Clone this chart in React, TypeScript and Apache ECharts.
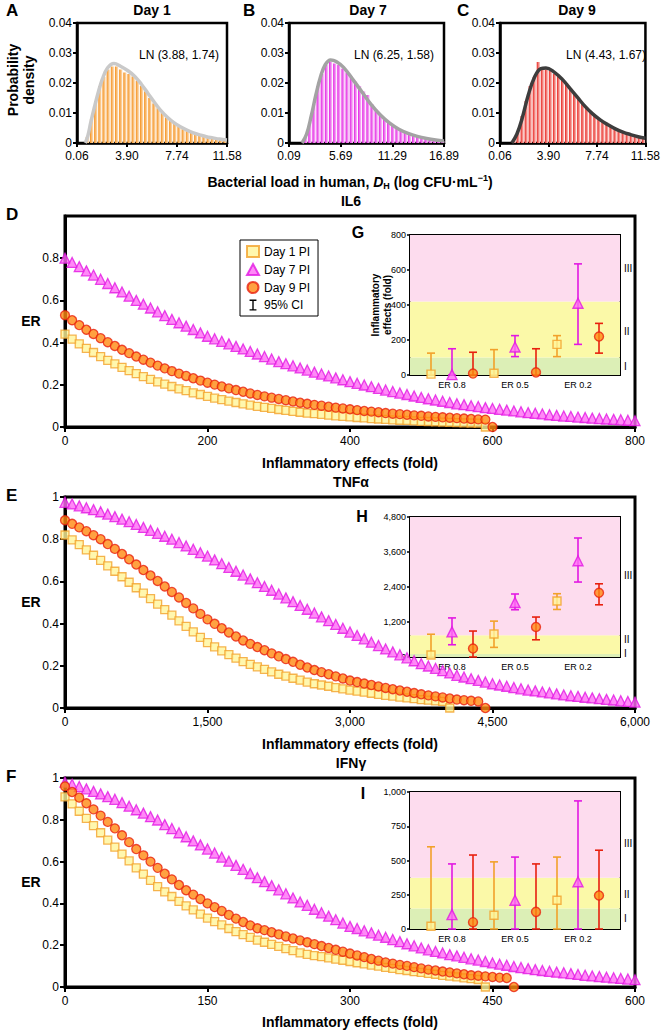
import React, { useEffect, useRef } from "react";
import * as echarts from "echarts";

const FONT = "'Liberation Sans', Arial, Helvetica, sans-serif";

// ---------- Panels A-C: histograms of bacterial load ----------
const ticksA = [0.06, 3.9, 7.74, 11.58];
const ticksB = [0.09, 5.69, 11.29, 16.89];
const ticksC = [0.06, 3.9, 7.74, 11.58];

const binStartA = 0.86;
const binStepA = 0.32;
const histA = [0.002, 0.008, 0.014, 0.019, 0.022, 0.0245, 0.0255, 0.0255, 0.0245, 0.0235, 0.023, 0.0222, 0.0208, 0.019, 0.0172, 0.015, 0.0132, 0.0116, 0.01, 0.0085, 0.0074, 0.0064, 0.0054, 0.0046, 0.004, 0.0034, 0.0029, 0.0025, 0.0022, 0.0018, 0.0015, 0.0013, 0.0011, 0.0009];
const curveA = [[0.7, 0], [0.9, 0.0025], [1.1, 0.0065], [1.4, 0.012], [1.7, 0.017], [2.0, 0.0212], [2.4, 0.025], [2.9, 0.0265], [3.4, 0.0256], [4.0, 0.024], [4.5, 0.0222], [5.0, 0.0196], [5.5, 0.0166], [6.0, 0.0136], [6.5, 0.0108], [7.0, 0.0086], [7.5, 0.0068], [8.0, 0.0054], [8.5, 0.0043], [9.0, 0.0034], [9.5, 0.0027], [10.0, 0.0021], [10.5, 0.0017], [11.0, 0.0013], [11.58, 0.001]];

const binStartB = 1.9;
const binStepB = 0.45;
const histB = [0.002, 0.007, 0.013, 0.019, 0.023, 0.026, 0.027, 0.0265, 0.026, 0.0248, 0.0235, 0.0222, 0.0205, 0.019, 0.0172, 0.016, 0.013, 0.0112, 0.0095, 0.0082, 0.007, 0.006, 0.0051, 0.0043, 0.0036, 0.003, 0.0025, 0.0021, 0.0017, 0.0014, 0.0012, 0.001, 0.0008, 0.0007];
const curveB = [[1.5, 0], [2.0, 0.003], [2.5, 0.009], [3.0, 0.016], [3.5, 0.022], [4.0, 0.026], [4.6, 0.0277], [5.2, 0.0272], [6.0, 0.0252], [7.0, 0.0212], [8.0, 0.017], [9.0, 0.0128], [10.0, 0.0093], [11.0, 0.0066], [12.0, 0.0046], [13.0, 0.0032], [14.0, 0.0022], [15.0, 0.0015], [16.0, 0.001], [16.89, 0.0007]];

const binStartC = 1.18;
const binStepC = 0.32;
const histC = [0.001, 0.004, 0.009, 0.014, 0.019, 0.022, 0.027, 0.025, 0.0245, 0.024, 0.023, 0.0222, 0.0212, 0.02, 0.0182, 0.0162, 0.0148, 0.013, 0.0118, 0.01, 0.0092, 0.008, 0.007, 0.0064, 0.0054, 0.0046, 0.004, 0.0035, 0.0031, 0.0028, 0.0023, 0.002, 0.0016];
const curveC = [[1.0, 0], [1.4, 0.003], [1.8, 0.008], [2.3, 0.016], [2.8, 0.022], [3.3, 0.0248], [3.7, 0.025], [4.3, 0.0238], [5.0, 0.0212], [5.6, 0.0182], [6.2, 0.0152], [6.8, 0.0122], [7.4, 0.0097], [8.0, 0.0077], [8.6, 0.0061], [9.2, 0.0047], [9.8, 0.0036], [10.4, 0.0028], [11.0, 0.0021], [11.58, 0.0016]];

// ---------- Panels D-F: ER vs inflammatory effects ----------
const ilStep = 10;
const ilDay1 = [0.44, 0.416, 0.394, 0.373, 0.353, 0.334, 0.316, 0.299, 0.283, 0.267, 0.253, 0.239, 0.226, 0.214, 0.203, 0.192, 0.181, 0.172, 0.162, 0.154, 0.145, 0.137, 0.13, 0.123, 0.116, 0.11, 0.104, 0.098, 0.093, 0.088, 0.083, 0.079, 0.074, 0.07, 0.066, 0.063, 0.06, 0.056, 0.053, 0.05, 0.048, 0.045, 0.043, 0.04, 0.038, 0.036, 0.034, 0.032, 0.031, 0.029, 0.027, 0.026, 0.025, 0.023, 0.022, 0.021, 0.02, 0.019, 0.018, 0];
const ilDay7 = [0.8, 0.78, 0.76, 0.74, 0.72, 0.7, 0.68, 0.66, 0.64, 0.62, 0.6, 0.582, 0.564, 0.546, 0.528, 0.51, 0.494, 0.478, 0.462, 0.446, 0.43, 0.418, 0.406, 0.394, 0.382, 0.37, 0.358, 0.346, 0.334, 0.322, 0.31, 0.3, 0.29, 0.28, 0.27, 0.26, 0.251, 0.242, 0.233, 0.224, 0.215, 0.207, 0.199, 0.191, 0.183, 0.175, 0.168, 0.161, 0.154, 0.147, 0.14, 0.134, 0.128, 0.122, 0.116, 0.11, 0.106, 0.101, 0.097, 0.092, 0.088, 0.084, 0.08, 0.076, 0.072, 0.068, 0.065, 0.062, 0.058, 0.055, 0.052, 0.05, 0.047, 0.045, 0.042, 0.04, 0.038, 0.036, 0.034, 0.032, 0.03];
const ilDay9 = [0.53, 0.506, 0.483, 0.461, 0.441, 0.421, 0.402, 0.384, 0.366, 0.35, 0.334, 0.319, 0.305, 0.291, 0.278, 0.265, 0.253, 0.242, 0.231, 0.22, 0.21, 0.201, 0.192, 0.183, 0.175, 0.167, 0.159, 0.152, 0.145, 0.139, 0.133, 0.127, 0.121, 0.115, 0.11, 0.105, 0.101, 0.096, 0.092, 0.088, 0.084, 0.08, 0.076, 0.073, 0.07, 0.066, 0.063, 0.061, 0.058, 0.055, 0.053, 0.05, 0.048, 0.046, 0.044, 0.042, 0.04, 0.038, 0.036, 0.035, 0];

const tnfStep = 75;
const tnfDay1 = [0.82, 0.797, 0.774, 0.749, 0.724, 0.7, 0.674, 0.648, 0.622, 0.596, 0.57, 0.544, 0.518, 0.492, 0.466, 0.44, 0.413, 0.387, 0.361, 0.335, 0.31, 0.29, 0.271, 0.253, 0.236, 0.22, 0.207, 0.195, 0.183, 0.171, 0.16, 0.151, 0.141, 0.132, 0.123, 0.115, 0.109, 0.103, 0.097, 0.091, 0.085, 0.08, 0.075, 0.07, 0.065, 0.06, 0.056, 0.052, 0.048, 0.044, 0.04, 0.037, 0.034, 0.031, 0];
const tnfDay7 = [0.975, 0.967, 0.958, 0.949, 0.94, 0.93, 0.919, 0.907, 0.895, 0.883, 0.87, 0.856, 0.842, 0.828, 0.814, 0.8, 0.784, 0.768, 0.752, 0.736, 0.72, 0.702, 0.684, 0.666, 0.648, 0.63, 0.612, 0.594, 0.576, 0.558, 0.54, 0.522, 0.504, 0.486, 0.468, 0.45, 0.432, 0.414, 0.396, 0.378, 0.36, 0.344, 0.328, 0.312, 0.296, 0.28, 0.266, 0.252, 0.238, 0.224, 0.21, 0.199, 0.188, 0.177, 0.166, 0.155, 0.147, 0.139, 0.131, 0.123, 0.115, 0.109, 0.103, 0.097, 0.091, 0.085, 0.081, 0.076, 0.072, 0.067, 0.062, 0.058, 0.055, 0.051, 0.048, 0.044, 0.041, 0.038, 0.034, 0.031, 0.028];
const tnfDay9 = [0.89, 0.873, 0.856, 0.838, 0.819, 0.8, 0.777, 0.754, 0.73, 0.705, 0.68, 0.654, 0.628, 0.602, 0.576, 0.55, 0.524, 0.498, 0.472, 0.446, 0.42, 0.399, 0.378, 0.358, 0.339, 0.32, 0.304, 0.289, 0.274, 0.259, 0.245, 0.232, 0.219, 0.205, 0.192, 0.18, 0.17, 0.16, 0.15, 0.14, 0.13, 0.123, 0.116, 0.109, 0.102, 0.095, 0.089, 0.083, 0.077, 0.071, 0.065, 0.06, 0.055, 0.05, 0.045, 0.04, 0.037, 0.034, 0.031, 0];

const ifnStep = 7.5;
const ifnDay1 = [0.91, 0.876, 0.841, 0.807, 0.772, 0.738, 0.703, 0.669, 0.636, 0.603, 0.57, 0.54, 0.51, 0.48, 0.455, 0.433, 0.41, 0.388, 0.369, 0.349, 0.33, 0.313, 0.297, 0.28, 0.265, 0.251, 0.237, 0.224, 0.214, 0.204, 0.194, 0.184, 0.174, 0.163, 0.156, 0.15, 0.145, 0.139, 0.133, 0.128, 0.122, 0.116, 0.111, 0.105, 0.1, 0.094, 0.089, 0.083, 0.079, 0.074, 0.07, 0.065, 0.061, 0.056, 0.052, 0.048, 0.044, 0.04, 0.036, 0];
const ifnDay7 = [0.98, 0.97, 0.959, 0.948, 0.936, 0.924, 0.911, 0.898, 0.882, 0.865, 0.848, 0.832, 0.815, 0.799, 0.777, 0.758, 0.738, 0.719, 0.699, 0.68, 0.66, 0.641, 0.621, 0.602, 0.582, 0.563, 0.543, 0.523, 0.504, 0.485, 0.465, 0.446, 0.426, 0.407, 0.391, 0.372, 0.355, 0.339, 0.322, 0.306, 0.29, 0.28, 0.269, 0.259, 0.248, 0.238, 0.227, 0.217, 0.207, 0.197, 0.187, 0.178, 0.17, 0.163, 0.155, 0.149, 0.142, 0.135, 0.129, 0.122, 0.115, 0.109, 0.104, 0.098, 0.093, 0.088, 0.083, 0.079, 0.075, 0.071, 0.068, 0.064, 0.06, 0.056, 0.053, 0.05, 0.047, 0.044, 0.041, 0.038, 0.035];
const ifnDay9 = [0.96, 0.933, 0.906, 0.879, 0.85, 0.82, 0.79, 0.759, 0.726, 0.693, 0.66, 0.63, 0.6, 0.57, 0.542, 0.515, 0.488, 0.463, 0.442, 0.421, 0.4, 0.382, 0.364, 0.345, 0.327, 0.311, 0.295, 0.281, 0.272, 0.262, 0.252, 0.242, 0.232, 0.223, 0.214, 0.205, 0.196, 0.187, 0.178, 0.169, 0.16, 0.151, 0.143, 0.134, 0.126, 0.118, 0.112, 0.106, 0.101, 0.095, 0.089, 0.083, 0.079, 0.074, 0.07, 0.065, 0.061, 0.056, 0.054, 0.051, 0.048, 0.045, 0.043, 0];

// ---------- Insets G-I: [mean, CI low, CI high] at ER 0.8, 0.5, 0.2 ----------
const erGroups = ["ER 0.8", "ER 0.5", "ER 0.2"];
const gDay1 = [[5, 0, 125], [10, 0, 145], [175, 105, 225]];
const gDay7 = [[2, 0, 150], [160, 105, 225], [410, 175, 635]];
const gDay9 = [[8, 0, 130], [15, 0, 150], [220, 125, 295]];
const gBands = [100, 420, 800];

const hDay1 = [[70, 0, 780], [790, 330, 1230], [1920, 1630, 2170]];
const hDay7 = [[860, 420, 1340], [1870, 1620, 2160], [3300, 2570, 4080]];
const hDay9 = [[290, 0, 890], [1030, 590, 1370], [2200, 1790, 2510]];
const hBands = [100, 750, 4800];

const iDay1 = [[20, 0, 600], [100, 0, 490], [210, 0, 525]];
const iDay7 = [[105, 0, 475], [210, 0, 525], [345, 0, 935]];
const iDay9 = [[50, 0, 540], [125, 0, 475], [245, 0, 575]];
const iBands = [150, 375, 1000];

// ---------- styles ----------
const day1Fill = "#fff59a";
const day1Edge = "#f2a12a";
const day7Fill = "#ff6cf5";
const day7Edge = "#e218e2";
const day9Fill = "#ff8a12";
const day9Edge = "#e8200e";
const bandColors = ["#dcefb6", "#fbf9a8", "#fddcee"];

function toU(x: number, ticks: number[]) {
  return ((x - ticks[0]) / (ticks[ticks.length - 1] - ticks[0])) * (ticks.length - 1);
}

function buildOption() {
  const grid: any[] = [
    { left: 77, top: 23, width: 150, height: 120 },
    { left: 289, top: 23, width: 155, height: 120 },
    { left: 500, top: 23, width: 152, height: 120 },
    { left: 65, top: 216, width: 570, height: 211 },
    { left: 65, top: 497, width: 570, height: 211 },
    { left: 65, top: 778, width: 570, height: 209 },
    { left: 410, top: 235, width: 210, height: 140 },
    { left: 410, top: 517, width: 210, height: 140 },
    { left: 410, top: 792, width: 210, height: 137 },
  ].map((g, i) => ({
    ...g,
    show: true,
    borderColor: "#000",
    borderWidth: i < 3 ? 2.5 : i < 6 ? 3 : 2,
    backgroundColor: "transparent",
    containLabel: false,
  }));

  const xAxis: any[] = [];
  const yAxis: any[] = [];

  const topTicks = [ticksA, ticksB, ticksC];
  topTicks.forEach((ticks, i) => {
    xAxis.push({
      gridIndex: i, type: "value", min: 0, max: ticks.length - 1, interval: 1,
      axisLine: { show: true, onZero: false, lineStyle: { color: "#000", width: 2.5 } },
      axisTick: { show: true, length: 4, lineStyle: { color: "#000", width: 2 } },
      axisLabel: { color: "#000", fontSize: 12, margin: 7, formatter: (v: number) => ticks[Math.round(v)].toFixed(2) },
      splitLine: { show: false },
    });
    yAxis.push({
      gridIndex: i, type: "value", min: 0, max: 0.04, interval: 0.01,
      axisLine: { show: true, lineStyle: { color: "#000", width: 2.5 } },
      axisTick: { show: true, length: 4, lineStyle: { color: "#000", width: 2 } },
      axisLabel: { color: "#000", fontSize: 12, margin: 5, formatter: (v: number) => (v === 0 ? "0" : v.toFixed(2)) },
      splitLine: { show: false },
    });
  });

  const mainX = [
    { max: 800, interval: 200 },
    { max: 6000, interval: 1500 },
    { max: 600, interval: 150 },
  ];
  mainX.forEach((m, k) => {
    const gi = 3 + k;
    xAxis.push({
      gridIndex: gi, type: "value", min: 0, max: m.max, interval: m.interval,
      axisLine: { show: true, onZero: false, lineStyle: { color: "#000", width: 3 } },
      axisTick: { show: true, length: 5, lineStyle: { color: "#000", width: 2 } },
      axisLabel: { color: "#000", fontSize: 12, margin: 8, formatter: (v: number) => v.toLocaleString("en-US") },
      splitLine: { show: false },
    });
    yAxis.push({
      gridIndex: gi, type: "value", min: 0, max: 1, interval: 0.2,
      axisLine: { show: true, lineStyle: { color: "#000", width: 3 } },
      axisTick: { show: true, length: 5, lineStyle: { color: "#000", width: 2 } },
      axisLabel: {
        color: "#000", fontSize: 12, margin: 6, showMaxLabel: k !== 0,
        formatter: (v: number) => (v === 0 ? "0" : v === 1 ? "1" : v.toFixed(1)),
      },
      splitLine: { show: false },
    });
  });

  const insetY = [
    { max: 800, interval: 200 },
    { max: 4800, interval: 1200 },
    { max: 1000, interval: 250 },
  ];
  insetY.forEach((m, k) => {
    const gi = 6 + k;
    xAxis.push({
      gridIndex: gi, type: "value", min: 0, max: 10, interval: 1,
      axisLine: { show: true, onZero: false, lineStyle: { color: "#000", width: 2 } },
      axisTick: { show: false },
      axisLabel: {
        color: "#000", fontSize: 9, margin: 5,
        formatter: (v: number) => {
          const g = (v - 2) / 3;
          return Number.isInteger(g) && g >= 0 && g < erGroups.length ? erGroups[g] : "";
        },
      },
      splitLine: { show: false },
    });
    yAxis.push({
      gridIndex: gi, type: "value", min: 0, max: m.max, interval: m.interval,
      axisLine: { show: true, lineStyle: { color: "#000", width: 2 } },
      axisTick: { show: true, length: 3, lineStyle: { color: "#000", width: 1.5 } },
      axisLabel: { color: "#000", fontSize: 9, margin: 4, formatter: (v: number) => v.toLocaleString("en-US") },
      splitLine: { show: false },
    });
  });

  const series: any[] = [];

  // histograms
  const hists = [
    { start: binStartA, step: binStepA, vals: histA, curve: curveA, ticks: ticksA, dark: "#f5901a", light: "#fde3c4", line: "#c9c9c9" },
    { start: binStartB, step: binStepB, vals: histB, curve: curveB, ticks: ticksB, dark: "#e41ee4", light: "#f8cdf8", line: "#a3a3a3" },
    { start: binStartC, step: binStepC, vals: histC, curve: curveC, ticks: ticksC, dark: "#e8231d", light: "#fbd3cf", line: "#3d3d3d" },
  ];
  hists.forEach((h, i) => {
    series.push({
      type: "bar", xAxisIndex: i, yAxisIndex: i, barWidth: 3.3, silent: true,
      itemStyle: {
        color: new echarts.graphic.LinearGradient(0, 0, 1, 0, [
          { offset: 0, color: h.dark },
          { offset: 1, color: h.light },
        ]),
      },
      data: h.vals.map((v, j) => [toU(h.start + j * h.step, h.ticks), v]),
      z: 2,
    });
    series.push({
      type: "line", xAxisIndex: i, yAxisIndex: i, smooth: 0.4, symbol: "none", silent: true,
      lineStyle: { color: h.line, width: 3.5 },
      data: h.curve.map((p) => [toU(p[0], h.ticks), p[1]]),
      z: 3,
    });
  });

  // main panels
  const mains = [
    { step: ilStep, d1: ilDay1, d7: ilDay7, d9: ilDay9 },
    { step: tnfStep, d1: tnfDay1, d7: tnfDay7, d9: tnfDay9 },
    { step: ifnStep, d1: ifnDay1, d7: ifnDay7, d9: ifnDay9 },
  ];
  mains.forEach((m, k) => {
    const gi = 3 + k;
    series.push({
      name: "Day 1 PI", type: "scatter", xAxisIndex: gi, yAxisIndex: gi, symbol: "rect", symbolSize: 8,
      itemStyle: { color: day1Fill, borderColor: day1Edge, borderWidth: 1.3 },
      data: m.d1.map((v, j) => [j * m.step, v]), z: 2,
    });
    series.push({
      name: "Day 7 PI", type: "scatter", xAxisIndex: gi, yAxisIndex: gi, symbol: "triangle", symbolSize: 10,
      itemStyle: { color: day7Fill, borderColor: day7Edge, borderWidth: 1.3 },
      data: m.d7.map((v, j) => [j * m.step, v]), z: 2,
    });
    series.push({
      name: "Day 9 PI", type: "scatter", xAxisIndex: gi, yAxisIndex: gi, symbol: "circle", symbolSize: 9,
      itemStyle: { color: day9Fill, borderColor: day9Edge, borderWidth: 1.3 },
      data: m.d9.map((v, j) => [j * m.step, v]), z: 2,
    });
  });
  series.push({ name: "95% CI", type: "line", xAxisIndex: 3, yAxisIndex: 3, data: [], itemStyle: { color: "#000" }, lineStyle: { color: "#000" } });

  // insets
  const insets = [
    { d1: gDay1, d7: gDay7, d9: gDay9, bands: gBands },
    { d1: hDay1, d7: hDay7, d9: hDay9, bands: hBands },
    { d1: iDay1, d7: iDay7, d9: iDay9, bands: iBands },
  ];
  insets.forEach((ins, k) => {
    const gi = 6 + k;
    series.push({
      type: "scatter", xAxisIndex: gi, yAxisIndex: gi, data: [[0, 0]], symbolSize: 0, silent: true, z: 4,
      markArea: {
        silent: true,
        data: [
          [{ yAxis: 0, itemStyle: { color: bandColors[0] } }, { yAxis: ins.bands[0] }],
          [{ yAxis: ins.bands[0], itemStyle: { color: bandColors[1] } }, { yAxis: ins.bands[1] }],
          [{ yAxis: ins.bands[1], itemStyle: { color: bandColors[2] } }, { yAxis: ins.bands[2] }],
        ],
      },
    });
    const groups = [
      { data: ins.d1, off: 1, edge: day1Edge, fill: day1Fill, sym: "rect", size: 8 },
      { data: ins.d7, off: 2, edge: day7Edge, fill: day7Fill, sym: "triangle", size: 10 },
      { data: ins.d9, off: 3, edge: day9Edge, fill: day9Fill, sym: "circle", size: 9 },
    ];
    groups.forEach((g) => {
      series.push({
        type: "custom", xAxisIndex: gi, yAxisIndex: gi, silent: true, z: 6,
        data: g.data.map((d, j) => [j * 3 + g.off, d[1], d[2]]),
        renderItem: (params: any, api: any) => {
          const x = api.value(0);
          const lo = api.coord([x, api.value(1)]);
          const hi = api.coord([x, api.value(2)]);
          const style = { stroke: g.edge, lineWidth: 1.6 };
          const c = 4;
          return {
            type: "group",
            children: [
              { type: "line", shape: { x1: lo[0], y1: lo[1], x2: hi[0], y2: hi[1] }, style },
              { type: "line", shape: { x1: hi[0] - c, y1: hi[1], x2: hi[0] + c, y2: hi[1] }, style },
              { type: "line", shape: { x1: lo[0] - c, y1: lo[1], x2: lo[0] + c, y2: lo[1] }, style },
            ],
          };
        },
      });
      series.push({
        type: "scatter", xAxisIndex: gi, yAxisIndex: gi, symbol: g.sym, symbolSize: g.size, silent: true, z: 7,
        itemStyle: { color: g.fill, borderColor: g.edge, borderWidth: 1.4 },
        data: g.data.map((d, j) => [j * 3 + g.off, d[0]]),
      });
    });
  });

  const txt = (text: string, x: number, y: number, font: string, align = "center", rot = 0, extra: any = {}) => ({
    type: "text", x, y, rotation: rot, z: 20,
    style: { text, font, fill: "#000", textAlign: align, textVerticalAlign: "middle", ...extra },
  });
  const B14 = `bold 14px ${FONT}`;
  const B17 = `bold 17px ${FONT}`;
  const R9 = `10px ${FONT}`;

  const graphic: any[] = [
    txt("A", 6, 10, B17, "left"),
    txt("B", 243, 10, B17, "left"),
    txt("C", 457, 10, B17, "left"),
    txt("Day 1", 152, 10, B14),
    txt("Day 7", 368, 10, B14),
    txt("Day 9", 577, 10, B14),
    txt("LN (3.88, 1.74)", 219, 55, `12px ${FONT}`, "right"),
    txt("LN (6.25, 1.58)", 434, 55, `12px ${FONT}`, "right"),
    txt("LN (4.43, 1.67)", 646, 55, `12px ${FONT}`, "right"),
    txt("Probability\ndensity", 21, 80, B14, "center", Math.PI / 2, { lineHeight: 16 }),
    {
      type: "text", x: 350, y: 182, z: 20,
      style: {
        text: "Bacterial load in human, {i|D}{sub|H} (log CFU·mL{sup|−1})",
        font: B14, fill: "#000", textAlign: "center", textVerticalAlign: "middle",
        rich: {
          i: { fontStyle: "italic", fontWeight: "bold", fontSize: 14, fontFamily: FONT },
          sub: { fontWeight: "bold", fontSize: 9, fontFamily: FONT, padding: [8, 0, 0, 0] },
          sup: { fontWeight: "bold", fontSize: 9, fontFamily: FONT, padding: [0, 0, 8, 0] },
        },
      },
    },
    txt("IL6", 351, 201, B14),
    txt("TNFα", 351, 482, B14),
    txt("IFNγ", 351, 763, B14),
    txt("D", 6, 214, B17, "left"),
    txt("E", 6, 495, B17, "left"),
    txt("F", 6, 776, B17, "left"),
    txt("ER", 31, 321, B14),
    txt("ER", 31, 602, B14),
    txt("ER", 31, 882, B14),
    txt("Inflammatory effects (fold)", 350, 463, B14),
    txt("Inflammatory effects (fold)", 350, 744, B14),
    txt("Inflammatory effects (fold)", 350, 1022, B14),
    txt("G", 358, 232, `bold 16px ${FONT}`),
    txt("H", 362, 516, `bold 16px ${FONT}`),
    txt("I", 363, 793, `bold 16px ${FONT}`),
    txt("Inflammatory\neffects (fold)", 381, 305, `bold 10px ${FONT}`, "center", Math.PI / 2, { lineHeight: 12 }),
    txt("III", 624, 268, R9, "left"),
    txt("II", 624, 331, R9, "left"),
    txt("I", 624, 366, R9, "left"),
    txt("III", 624, 575, R9, "left"),
    txt("II", 624, 639, R9, "left"),
    txt("I", 624, 653, R9, "left"),
    txt("III", 624, 843, R9, "left"),
    txt("II", 624, 894, R9, "left"),
    txt("I", 624, 918, R9, "left"),
  ];

  return {
    animation: false,
    backgroundColor: "#fff",
    textStyle: { fontFamily: FONT },
    grid,
    xAxis,
    yAxis,
    series,
    legend: {
      show: true, orient: "vertical", left: 240, top: 240,
      itemWidth: 12, itemHeight: 11, itemGap: 5, padding: [5, 8, 5, 6],
      borderColor: "#000", borderWidth: 1, backgroundColor: "#fff", selectedMode: false,
      textStyle: { fontSize: 12, color: "#000", fontFamily: FONT },
      data: [
        { name: "Day 1 PI" },
        { name: "Day 7 PI" },
        { name: "Day 9 PI" },
        { name: "95% CI", icon: "path://M0,0h10v2h-4v12h4v2h-10v-2h4v-12h-4z", itemStyle: { color: "#000" } },
      ],
    },
    graphic: { elements: graphic },
  };
}

export default function App() {
  const ref = useRef<HTMLDivElement>(null);
  useEffect(() => {
    if (!ref.current) return;
    const chart = echarts.init(ref.current, null, { renderer: "svg" });
    chart.setOption(buildOption() as any);
    return () => chart.dispose();
  }, []);
  return (
    <div
      ref={ref}
      style={{ position: "fixed", left: 0, top: 0, width: 663, height: 1031, background: "#fff" }}
    />
  );
}
